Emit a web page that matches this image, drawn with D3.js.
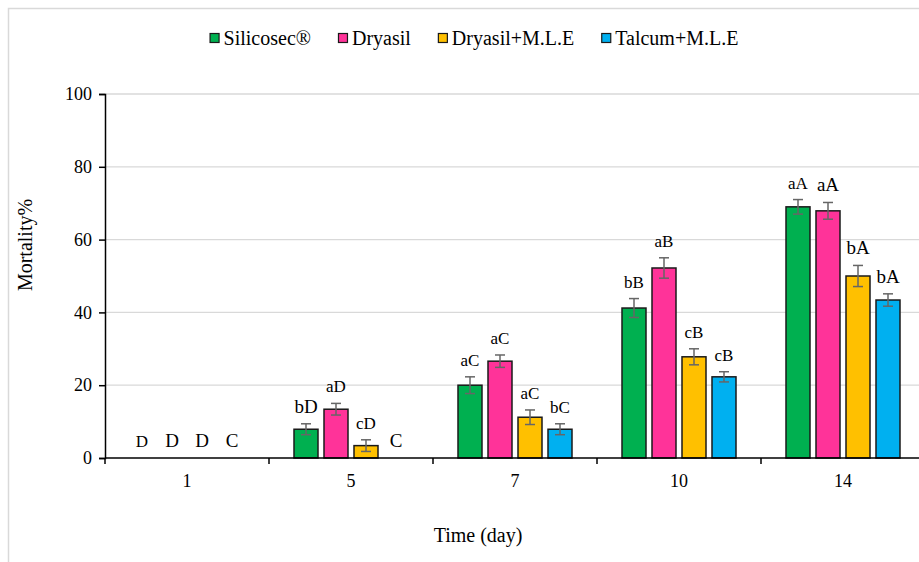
<!DOCTYPE html>
<html>
<head>
<meta charset="utf-8">
<script src="https://cdn.jsdelivr.net/npm/d3@7"></script>
<style>
  html, body { margin: 0; padding: 0; background: #fff; }
  svg text { font-family: "Liberation Serif", "Times New Roman", serif; fill: #000; }
</style>
</head>
<body>
<svg id="chart" width="919" height="562"></svg>
<script>
// Mortality (%) by exposure day for four dust treatments
const days = ["1", "5", "7", "10", "14"];
const series = ["Silicosec®", "Dryasil", "Dryasil+M.L.E", "Talcum+M.L.E"];

const silicosec    = [0, 7.9, 20.0, 41.2, 69.0];
const dryasil      = [0, 13.4, 26.6, 52.2, 67.9];
const dryasilMLE   = [0, 3.4, 11.2, 27.8, 50.0];
const talcumMLE    = [0, 0, 7.9, 22.3, 43.4];

const silicosecErr  = [0, 1.5, 2.3, 2.6, 2.0];
const dryasilErr    = [0, 1.6, 1.7, 2.8, 2.3];
const dryasilMLEErr = [0, 1.6, 2.0, 2.2, 2.9];
const talcumMLEErr  = [0, 0, 1.5, 1.4, 1.7];

const silicosecLbl  = ["D", "bD", "aC", "bB", "aA"];
const dryasilLbl    = ["D", "aD", "aC", "aB", "aA"];
const dryasilMLELbl = ["D", "cD", "aC", "cB", "bA"];
const talcumMLELbl  = ["C", "C", "bC", "cB", "bA"];

const yTicks = [0, 20, 40, 60, 80, 100];

const values = [silicosec, dryasil, dryasilMLE, talcumMLE];
const errors = [silicosecErr, dryasilErr, dryasilMLEErr, talcumMLEErr];
const letters = [silicosecLbl, dryasilLbl, dryasilMLELbl, talcumMLELbl];

const colors = ["#00B050", "#FF3399", "#FFC000", "#00B0F0"];
// letter groups drawn a little larger
const largeLetters = new Set(["1-1", "1-2", "1-3", "5-0", "5-3", "14-1", "14-2", "14-3"]);

const svg = d3.select("#chart");
const plotLeft = 105, plotTop = 94, plotBottom = 458, band = 164;

// chart frame
svg.append("path")
  .attr("d", `M8.5,562 V8.5 H919`)
  .attr("fill", "none").attr("stroke", "#d9d9d9").attr("stroke-width", 1.5);

const x0 = d3.scaleBand().domain(days).range([plotLeft, plotLeft + band * days.length]).padding(0);
const x1 = d3.scaleBand().domain(series)
  .range([band / 2 - 57, band / 2 + 57]).paddingInner(0.2).paddingOuter(0);
const y = d3.scaleLinear().domain([0, 100]).range([plotBottom, plotTop]);

// gridlines
svg.append("g").selectAll("line").data(yTicks.filter(t => t > 0)).join("line")
  .attr("x1", plotLeft).attr("x2", 919)
  .attr("y1", d => y(d)).attr("y2", d => y(d))
  .attr("stroke", "#d9d9d9").attr("stroke-width", 1.3);

// bars
const rows = [];
days.forEach((day, i) => series.forEach((s, j) => rows.push({
  day, i, s, j, v: values[j][i], e: errors[j][i], lbl: letters[j][i]
})));

const g = svg.append("g");
g.selectAll("rect").data(rows.filter(d => d.v > 0)).join("rect")
  .attr("x", d => x0(d.day) + x1(d.s))
  .attr("y", d => y(d.v))
  .attr("width", x1.bandwidth())
  .attr("height", d => y(0) - y(d.v))
  .attr("fill", d => colors[d.j])
  .attr("stroke", "#1a1a1a").attr("stroke-width", 1.5);

// error bars
const eb = g.append("g").attr("stroke", "#666").attr("stroke-width", 1.5);
rows.filter(d => d.e > 0).forEach(d => {
  const cx = x0(d.day) + x1(d.s) + x1.bandwidth() / 2;
  const y1 = y(d.v + d.e), y2 = y(d.v - d.e);
  eb.append("line").attr("x1", cx).attr("x2", cx).attr("y1", y1).attr("y2", y2);
  eb.append("line").attr("x1", cx - 5).attr("x2", cx + 5).attr("y1", y1).attr("y2", y1);
  eb.append("line").attr("x1", cx - 5).attr("x2", cx + 5).attr("y1", y2).attr("y2", y2);
});

// significance letters
g.selectAll("text.lbl").data(rows).join("text")
  .attr("class", "lbl")
  .attr("x", d => x0(d.day) + x1(d.s) + x1.bandwidth() / 2)
  .attr("y", d => y(d.v + d.e) - 11)
  .attr("text-anchor", "middle")
  .attr("font-size", d => largeLetters.has(d.day + "-" + d.j) ? 19 : 17)
  .text(d => d.lbl);

// y axis
const yAxis = svg.append("g").attr("transform", `translate(${plotLeft},0)`)
  .call(d3.axisLeft(y).tickValues(yTicks).tickSize(6).tickPadding(7));
yAxis.select(".domain").attr("stroke", "#000").attr("stroke-width", 1.5);
yAxis.selectAll(".tick line").attr("stroke", "#000").attr("stroke-width", 1.5);
yAxis.selectAll(".tick text").attr("font-size", 18)
  .attr("font-family", "Liberation Serif").attr("fill", "#000");

// x axis with ticks between groups
const xAxis = svg.append("g").attr("transform", `translate(0,${plotBottom})`);
xAxis.append("line").attr("x1", plotLeft).attr("x2", 919).attr("y1", 0).attr("y2", 0)
  .attr("stroke", "#000").attr("stroke-width", 1.5);
xAxis.selectAll("line.tk").data(days).join("line").attr("class", "tk")
  .attr("x1", d => x0(d)).attr("x2", d => x0(d)).attr("y1", 0).attr("y2", 6)
  .attr("stroke", "#000").attr("stroke-width", 1.5);
xAxis.selectAll("text").data(days).join("text")
  .attr("x", d => x0(d) + x0.bandwidth() / 2)
  .attr("y", 29)
  .attr("text-anchor", "middle").attr("font-size", 18)
  .text(d => d);

// axis titles
svg.append("text").attr("x", 478).attr("y", 542).attr("text-anchor", "middle")
  .attr("font-size", 20).text("Time (day)");
svg.append("text").attr("transform", "translate(32,245) rotate(-90)")
  .attr("text-anchor", "middle").attr("font-size", 20).text("Mortality%");

// legend
const legend = svg.append("g");
let lx = 0;
series.forEach((s, j) => {
  const item = legend.append("g").attr("transform", `translate(${lx},0)`);
  item.append("rect").attr("x", 0.5).attr("y", 33.5).attr("width", 9).attr("height", 9)
    .attr("fill", colors[j]).attr("stroke", "#1a1a1a").attr("stroke-width", 1.2);
  const t = item.append("text").attr("x", 14).attr("y", 45).attr("font-size", 20).text(s);
  lx += 14 + t.node().getComputedTextLength() + 27;
});
const totalW = lx - 27;
legend.attr("transform", `translate(${474 - totalW / 2},0)`);
</script>
</body>
</html>
